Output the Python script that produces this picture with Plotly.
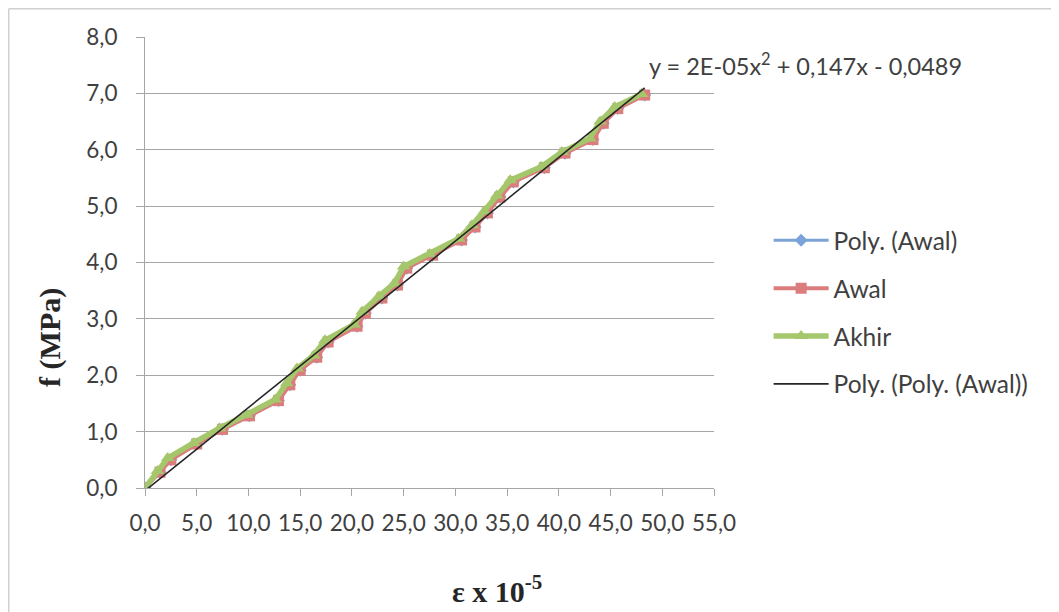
import numpy as np
import plotly.graph_objects as go

# strain (x 10^-5) and stress f (MPa)
awal_x = [0.0, 1.45, 2.5, 5.0, 7.5, 10.1, 12.9, 14.0, 15.0, 16.6, 17.7, 20.5, 21.3, 22.9, 24.4, 25.3,
          27.8, 30.6, 31.9, 33.1, 34.3, 35.6, 38.6, 40.6, 43.3, 44.3, 45.7, 48.3]
awal_y = [0.0, 0.28, 0.5, 0.78, 1.04, 1.28, 1.55, 1.83, 2.09, 2.32, 2.59, 2.87, 3.1, 3.37, 3.6, 3.9,
          4.13, 4.4, 4.63, 4.88, 5.16, 5.43, 5.68, 5.94, 6.18, 6.47, 6.73, 6.97]
akhir_x = [0.0, 1.2, 2.2, 4.7, 7.2, 9.8, 12.6, 13.7, 14.7, 16.3, 17.4, 20.2, 21.0, 22.6, 24.1, 25.0,
           27.5, 30.3, 31.6, 32.8, 34.0, 35.3, 38.3, 40.3, 43.0, 44.0, 45.4, 48.0]
akhir_y = [0.0, 0.3, 0.53, 0.8, 1.06, 1.3, 1.57, 1.86, 2.12, 2.35, 2.62, 2.9, 3.13, 3.4, 3.63, 3.93,
           4.15, 4.42, 4.66, 4.91, 5.19, 5.46, 5.7, 5.96, 6.2, 6.5, 6.76, 6.99]

# polynomial trendline coefficients (from the chart's equation)
trend_a, trend_b, trend_c = 2e-05, 0.147, -0.0489
trend_x = np.linspace(0, 48.3, 60)
trend_y = trend_a * trend_x ** 2 + trend_b * trend_x + trend_c

y_ticks = [0, 1, 2, 3, 4, 5, 6, 7, 8]
x_ticks = [0, 5, 10, 15, 20, 25, 30, 35, 40, 45, 50, 55]

FONT = "Lato"
TXT = "#404040"

fig = go.Figure()
fig.add_trace(go.Scatter(x=awal_x, y=awal_y, name="Poly. (Awal)", mode="lines+markers",
                         line=dict(color="#7BA3D8", width=3),
                         marker=dict(symbol="diamond", size=10, color="#7BA3D8"),
                         legendgroup="a"))
fig.add_trace(go.Scatter(x=awal_x, y=awal_y, name="Awal", mode="lines+markers",
                         line=dict(color="#DB7C7D", width=4),
                         marker=dict(symbol="square", size=11, color="#DB7C7D"),
                         legendgroup="b"))
fig.add_trace(go.Scatter(x=akhir_x, y=akhir_y, name="Akhir", mode="lines+markers",
                         line=dict(color="#A5C76B", width=5.5),
                         marker=dict(symbol="triangle-up", size=12, color="#A5C76B"),
                         legendgroup="c"))
fig.add_trace(go.Scatter(x=trend_x, y=trend_y, name="Poly. (Poly. (Awal))", mode="lines",
                         line=dict(color="#262626", width=1.6),
                         legendgroup="d"))

fig.update_layout(
    width=1051, height=604,
    margin=dict(l=137, r=345, t=29, b=124),
    paper_bgcolor="white", plot_bgcolor="white",
    separators=", ",
    font=dict(family=FONT, size=22, color=TXT),
    showlegend=True,
    legend=dict(x=1.096, y=0.599, xanchor="left", yanchor="top",
                font=dict(family=FONT, size=24.5, color=TXT),
                tracegroupgap=13, itemwidth=55, bgcolor="rgba(0,0,0,0)"),
    xaxis=dict(range=[0, 55], tickvals=x_ticks, tickformat=".1f", showgrid=False,
               showline=True, linecolor="#A6A6A6", linewidth=1,
               ticks="outside", ticklen=7, tickcolor="#A6A6A6", ticklabelstandoff=8,
               tickfont=dict(family=FONT, size=22.5, color=TXT), zeroline=False),
    yaxis=dict(range=[0, 8], tickvals=y_ticks, tickformat=".1f", showgrid=True,
               gridcolor="#A6A6A6", gridwidth=1,
               showline=True, linecolor="#A6A6A6", linewidth=1,
               ticks="outside", ticklen=8, tickcolor="#A6A6A6", ticklabelstandoff=14,
               tickfont=dict(family=FONT, size=22.5, color=TXT), zeroline=False),
    annotations=[
        dict(text="<b>f (MPa)</b>", xref="paper", yref="paper", x=-0.167, y=0.335,
             xanchor="center", yanchor="middle",
             textangle=-90, showarrow=False,
             font=dict(family="Liberation Serif", size=30, color="#262626")),
        dict(text="<b>ε x 10<sup>-5</sup></b>", xref="paper", yref="paper", x=0.618, y=-0.225,
             xanchor="center", yanchor="middle",
             showarrow=False, font=dict(family="Liberation Serif", size=30, color="#262626")),
        dict(text="y = 2E-05x<sup>2</sup> + 0,147x - 0,0489", xref="paper", yref="paper",
             x=0.882, y=0.94, xanchor="left", yanchor="middle", showarrow=False,
             font=dict(family=FONT, size=23.5, color=TXT)),
    ],
    shapes=[
        dict(type="line", xref="paper", yref="paper", x0=-0.2395, x1=1.62, y0=1.0626, y1=1.0626,
             line=dict(color="#D0D0D0", width=1.5)),
        dict(type="line", xref="paper", yref="paper", x0=-0.2395, x1=-0.2395, y0=1.0626, y1=-0.28,
             line=dict(color="#D0D0D0", width=1.5)),
    ],
)

fig.write_html("out.html")
